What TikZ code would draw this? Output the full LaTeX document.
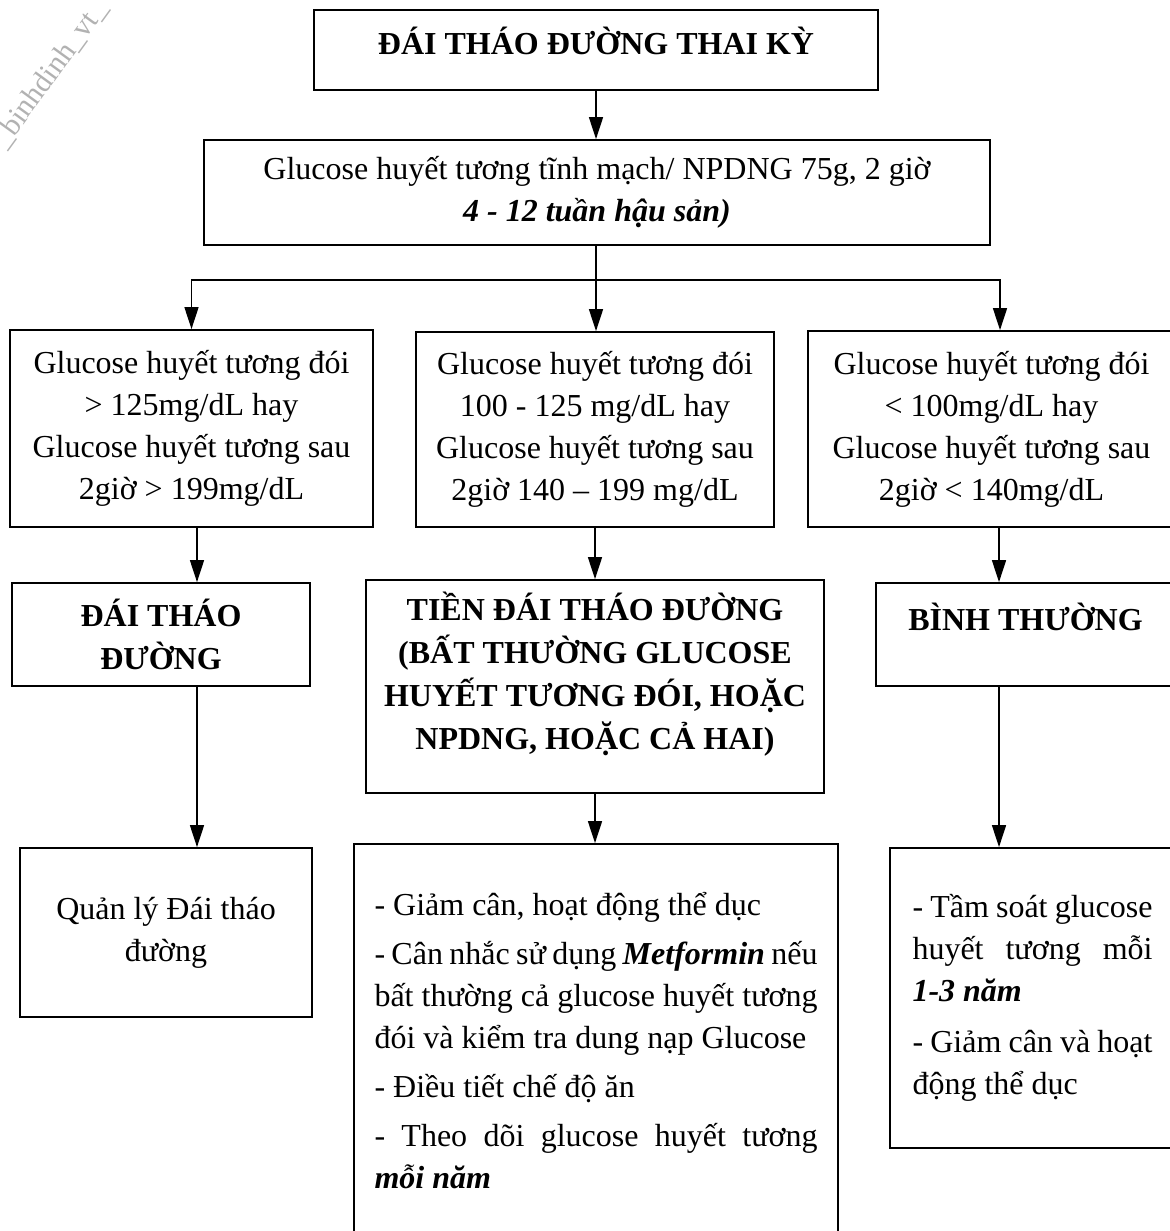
\documentclass[tikz,border=0pt]{standalone}
\usepackage{fontspec}
\setmainfont{Liberation Serif}
\usetikzlibrary{arrows.meta}
\newcommand{\bi}[1]{\textbf{\textit{#1}}}
\tikzset{
  box/.style={draw, line width=0.9pt, align=center, inner sep=0pt,
    font=\fontsize{16}{21}\selectfont},
  hbox/.style={box, font=\fontsize{16}{21.5}\selectfont\bfseries},
  lbox/.style={box, align=justify, execute at begin node=\setlength{\parindent}{0pt}},
  arr/.style={-{Triangle[length=11pt,width=7pt]}, line width=0.7pt},
  wire/.style={line width=0.7pt},
}

\begin{document}
\begin{tikzpicture}[x=0.5pt,y=-0.5pt]
\useasboundingbox (0,0) rectangle (1170,1231);
% watermark
\node[rotate=54, text=black!30, font=\fontsize{15}{17}\selectfont] (wm) at (50,74) {\_binhdinh\_vt\_};

% boxes
\node[hbox, minimum width=282pt, minimum height=40pt, text depth=9pt] (top) at (596,50) {ĐÁI THÁO ĐƯỜNG THAI KỲ};
\node[box, minimum width=393pt, minimum height=52.5pt] (glu) at (597,192.5)
  {Glucose huyết tương tĩnh mạch/ NPDNG 75g, 2 giờ\\ \bi{4 - 12 tuần hậu sản)}};

\node[box, minimum width=181.5pt, minimum height=98.5pt] (hi) at (191.5,428.5)
  {Glucose huyết tương đói\\ > 125mg/dL hay\\ Glucose huyết tương sau\\ 2giờ > 199mg/dL};
\node[box, minimum width=179pt, minimum height=97.5pt] (mid) at (595,429.5)
  {Glucose huyết tương đói\\ 100 - 125 mg/dL hay\\ Glucose huyết tương sau\\ 2giờ 140 – 199 mg/dL};
\node[box, minimum width=183.5pt, minimum height=98pt] (lo) at (991.5,429)
  {Glucose huyết tương đói\\ < 100mg/dL hay\\ Glucose huyết tương sau\\ 2giờ < 140mg/dL};

\node[hbox, minimum width=149pt, minimum height=51.5pt] (dtd) at (161,634.5) {ĐÁI THÁO\\ ĐƯỜNG};
\node[hbox, minimum width=229pt, minimum height=106.5pt, text depth=16pt] (tien) at (595,686.5)
  {TIỀN ĐÁI THÁO ĐƯỜNG\\ (BẤT THƯỜNG GLUCOSE\\ HUYẾT TƯƠNG ĐÓI, HOẶC\\ NPDNG, HOẶC CẢ HAI)};
\node[hbox, minimum width=149.5pt, minimum height=51.5pt, text depth=18pt] (bt) at (1025.5,634.5) {BÌNH THƯỜNG};

\node[box, minimum width=146pt, minimum height=84.5pt] (ql) at (166,932.5) {Quản lý Đái tháo\\ đường};
\node[lbox, text width=221.5pt, minimum width=242pt, minimum height=197pt] (td) at (596,1041)
  {- Giảm cân, hoạt động thể dục\\[3.5pt]
   - Cân nhắc sử dụng \bi{Metformin} nếu\linebreak bất thường cả glucose huyết tương\linebreak
   đói và kiểm tra dung nạp Glucose\\[3.5pt]
   - Điều tiết chế độ ăn\\[3.5pt]
   - Theo dõi glucose huyết tương\linebreak \bi{mỗi năm}};
\node[lbox, text width=120pt, minimum width=142.5pt, minimum height=150pt] (ts) at (1032.5,998)
  {- Tầm soát glucose\linebreak huyết tương mỗi\linebreak \bi{1-3 năm}\\[4.5pt]
   - Giảm cân và hoạt\linebreak động thể dục};

% connectors
\coordinate (fork) at (596,280);
\coordinate (colL) at (197,0);
\coordinate (colR) at (999,0);
\coordinate (colR3) at (1000,0);
\draw[arr] (top.south) -- (top.south |- glu.north);
\draw[wire] (glu.south -| fork) -- (fork);
\draw[arr] (fork) -| (hi.north);
\draw[arr] (fork) -| (lo.north -| colR3);
\draw[arr] (fork) -- (fork |- mid.north);
\draw[arr] (hi.south -| colL) -- (dtd.north -| colL);
\draw[arr] (dtd.south -| colL) -- (ql.north -| colL);
\draw[arr] (mid.south) -- (mid.south |- tien.north);
\draw[arr] (tien.south) -- (tien.south |- td.north);
\draw[arr] (lo.south -| colR) -- (bt.north -| colR);
\draw[arr] (bt.south -| colR) -- (ts.north -| colR);
\end{tikzpicture}
\end{document}
